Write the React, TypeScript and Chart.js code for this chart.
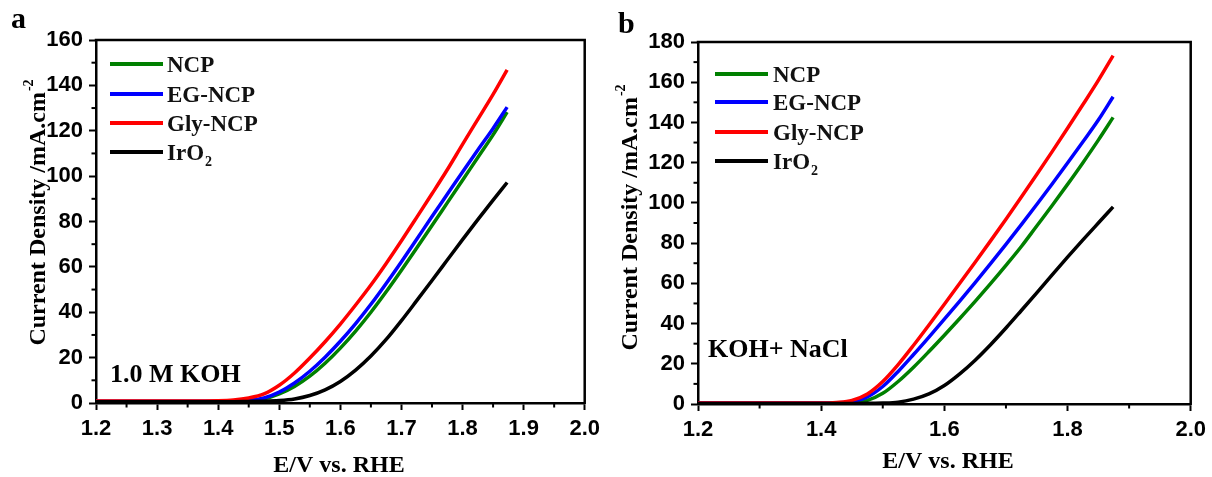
import React, { useEffect, useRef } from 'react';
import { Chart, registerables } from 'chart.js';
Chart.register(...registerables);

const SERIES_NAMES = ['NCP', 'EG-NCP', 'Gly-NCP', 'IrO2'];
const SERIES_COLORS = ['#008000', '#0000ff', '#ff0000', '#000000'];

// Panel a : 1.0 M KOH
const VOLTS_A = [1.2, 1.25, 1.3, 1.35, 1.4, 1.425, 1.45, 1.475, 1.5, 1.525, 1.55, 1.575, 1.6, 1.625, 1.65, 1.675, 1.7, 1.725, 1.75, 1.775, 1.8, 1.825, 1.85, 1.873];
const NCP_A = [0.7, 0.7, 0.7, 0.7, 0.7, 0.8, 1.0, 1.8, 4.0, 7.3, 11.8, 17.5, 24.2, 31.7, 40, 49, 58.5, 68.3, 78.2, 88.2, 98.2, 108.2, 118.2, 128.2];
const EG_A = [0.8, 0.8, 0.8, 0.8, 0.8, 0.9, 1.2, 2.2, 4.8, 8.8, 14, 20.2, 27.2, 35, 43.5, 52.7, 62.3, 72.2, 82.2, 92, 101.8, 111.5, 121, 130.4];
const GLY_A = [0.9, 0.9, 0.9, 0.9, 1.0, 1.3, 2.2, 4.0, 7.8, 13.2, 19.8, 27, 34.8, 43.2, 52, 61.5, 71.5, 81.8, 92.2, 102.8, 114, 125, 136, 146.8];
const IRO2_A = [0.6, 0.6, 0.6, 0.6, 0.6, 0.6, 0.7, 0.8, 1.1, 1.8, 3.3, 5.8, 9.5, 14.5, 20.7, 28, 36.3, 45.1, 54, 63, 72, 80.8, 89.4, 97.2];

// Panel b : KOH + NaCl
const VOLTS_B = [1.2, 1.25, 1.3, 1.35, 1.4, 1.425, 1.45, 1.475, 1.5, 1.525, 1.55, 1.575, 1.6, 1.625, 1.65, 1.675, 1.7, 1.725, 1.75, 1.775, 1.8, 1.825, 1.85, 1.874];
const NCP_B = [0.4, 0.4, 0.4, 0.4, 0.4, 0.5, 0.8, 1.8, 5.3, 11.2, 18.3, 26.1, 34.2, 42.5, 51, 59.8, 68.9, 78.3, 88.5, 98.7, 109.2, 120, 131.2, 142.5];
const EG_B = [0.5, 0.5, 0.5, 0.5, 0.5, 0.6, 1.2, 3.5, 8.7, 16.2, 24.6, 33.3, 42.2, 51.2, 60.4, 69.8, 79.4, 89.2, 99.2, 109.4, 119.8, 130.4, 141.2, 152.8];
const GLY_B = [0.5, 0.5, 0.5, 0.5, 0.5, 0.8, 1.8, 5.0, 11.2, 19.6, 29.2, 39.3, 49.6, 60, 70.5, 81.1, 91.9, 102.9, 114.1, 125.5, 137.1, 148.9, 160.9, 173.2];
const IRO2_B = [0.3, 0.3, 0.3, 0.3, 0.3, 0.3, 0.3, 0.35, 0.45, 0.9, 2.4, 5.0, 9.2, 15.0, 21.8, 29.5, 37.8, 46.5, 55.3, 64.2, 73, 81.6, 90, 98];

// Ticks
const X_MINOR_A = [1.25, 1.35, 1.45, 1.55, 1.65, 1.75, 1.85, 1.95];
const Y_MINOR_A = [10, 30, 50, 70, 90, 110, 130, 150];
const X_MINOR_B = [1.3, 1.5, 1.7, 1.9];
const Y_MINOR_B = [10, 30, 50, 70, 90, 110, 130, 150, 170];

const SERIF = "'Liberation Serif', 'Times New Roman', serif";
const SANS = "'Liberation Sans', Arial, sans-serif";

type PanelCfg = {
  volts: number[];
  series: number[][];
  yMax: number;
  xStep: number;
  xMinor: number[];
  yMinor: number[];
  padRight: number;
  padTop: number;
  yWidth: number;
  xHeight: number;
  letter: string;
  letterPos: [number, number];
  note: string;
  notePos: [number, number];
  legendX: [number, number, number];
  legendY: number[];
  yTitlePos: [number, number];
  xTitlePos: [number, number];
};

const PANEL_A: PanelCfg = {
  volts: VOLTS_A,
  series: [NCP_A, EG_A, GLY_A, IRO2_A],
  yMax: 160,
  xStep: 0.1,
  xMinor: X_MINOR_A,
  yMinor: Y_MINOR_A,
  padRight: 17,
  padTop: 40,
  yWidth: 96,
  xHeight: 74,
  letter: 'a',
  letterPos: [11, 28],
  note: '1.0 M KOH',
  notePos: [110, 382],
  legendX: [110, 163, 167],
  legendY: [64, 94, 123, 152],
  yTitlePos: [45, 213],
  xTitlePos: [339, 472],
};

const PANEL_B: PanelCfg = {
  volts: VOLTS_B,
  series: [NCP_B, EG_B, GLY_B, IRO2_B],
  yMax: 180,
  xStep: 0.2,
  xMinor: X_MINOR_B,
  yMinor: Y_MINOR_B,
  padRight: 21,
  padTop: 42,
  yWidth: 92,
  xHeight: 73,
  letter: 'b',
  letterPos: [12, 33],
  note: 'KOH+ NaCl',
  notePos: [102, 357],
  legendX: [109, 162, 167],
  legendY: [74, 102, 132, 161],
  yTitlePos: [31, 218],
  xTitlePos: [342, 468],
};

function makeDecor(cfg: PanelCfg) {
  return {
    id: 'decor' + cfg.letter,
    afterDraw(chart: any) {
      const ctx: CanvasRenderingContext2D = chart.ctx;
      const { left, right, top, bottom } = chart.chartArea;
      const xs = chart.scales.x;
      const ys = chart.scales.y;
      ctx.save();
      ctx.strokeStyle = '#000';
      ctx.fillStyle = '#000';
      // frame top & right
      ctx.lineWidth = 2.5;
      ctx.beginPath();
      ctx.moveTo(left - 1.25, top);
      ctx.lineTo(right, top);
      ctx.lineTo(right, bottom + 1.25);
      ctx.stroke();
      // minor ticks
      ctx.lineWidth = 2;
      for (const v of cfg.xMinor) {
        const px = xs.getPixelForValue(v);
        ctx.beginPath();
        ctx.moveTo(px, bottom);
        ctx.lineTo(px, bottom + 4.5);
        ctx.stroke();
      }
      for (const v of cfg.yMinor) {
        const py = ys.getPixelForValue(v);
        ctx.beginPath();
        ctx.moveTo(left, py);
        ctx.lineTo(left - 4.5, py);
        ctx.stroke();
      }
      // legend
      const [lx1, lx2, tx] = cfg.legendX;
      SERIES_NAMES.forEach((name, i) => {
        const y = cfg.legendY[i];
        ctx.strokeStyle = SERIES_COLORS[i];
        ctx.lineWidth = 4;
        ctx.beginPath();
        ctx.moveTo(lx1, y);
        ctx.lineTo(lx2, y);
        ctx.stroke();
        ctx.fillStyle = '#111';
        ctx.textBaseline = 'alphabetic';
        ctx.textAlign = 'left';
        ctx.font = `bold 23px ${SERIF}`;
        const base = y + 8;
        if (name === 'IrO2') {
          ctx.fillText('IrO', tx, base);
          const w = ctx.measureText('IrO').width;
          ctx.font = `bold 14px ${SERIF}`;
          ctx.fillText('2', tx + w + 1, base + 6);
        } else {
          ctx.fillText(name, tx, base);
        }
      });
      ctx.fillStyle = '#000';
      // panel letter
      ctx.font = `bold 30px ${SERIF}`;
      ctx.textAlign = 'left';
      ctx.textBaseline = 'alphabetic';
      ctx.fillText(cfg.letter, cfg.letterPos[0], cfg.letterPos[1]);
      // note
      ctx.font = `bold 26px ${SERIF}`;
      ctx.fillText(cfg.note, cfg.notePos[0], cfg.notePos[1]);
      // x title
      ctx.font = `bold 24px ${SERIF}`;
      ctx.textAlign = 'center';
      ctx.fillText('E/V vs. RHE', cfg.xTitlePos[0], cfg.xTitlePos[1]);
      // y title (rotated with superscript)
      ctx.translate(cfg.yTitlePos[0], cfg.yTitlePos[1]);
      ctx.rotate(-Math.PI / 2);
      ctx.textAlign = 'left';
      ctx.font = `bold 24px ${SERIF}`;
      const main = 'Current Density /mA.cm';
      const wm = ctx.measureText(main).width;
      ctx.font = `bold 14px ${SERIF}`;
      const ws = ctx.measureText('-2').width;
      const start = -(wm + ws) / 2;
      ctx.font = `bold 24px ${SERIF}`;
      ctx.fillText(main, start, 0);
      ctx.font = `bold 14px ${SERIF}`;
      ctx.fillText('-2', start + wm + 1, -12);
      ctx.restore();
    },
  };
}

function Panel({ cfg, left }: { cfg: PanelCfg; left: number }) {
  const ref = useRef<HTMLCanvasElement>(null);
  useEffect(() => {
    if (!ref.current) return;
    const tickFont = { family: SANS, size: 22, weight: 'bold' as const };
    const chart = new Chart(ref.current, {
      type: 'line',
      data: {
        datasets: cfg.series.map((vals, i) => ({
          label: SERIES_NAMES[i],
          data: cfg.volts.map((v, j) => ({ x: v, y: vals[j] })),
          borderColor: SERIES_COLORS[i],
          backgroundColor: SERIES_COLORS[i],
          borderWidth: 3.5,
          pointRadius: 0,
          cubicInterpolationMode: 'monotone' as const,
          fill: false,
        })).reverse(),
      },
      options: {
        animation: false,
        responsive: true,
        maintainAspectRatio: false,
        layout: { padding: { left: 0, right: cfg.padRight, top: cfg.padTop, bottom: 0 } },
        plugins: { legend: { display: false }, tooltip: { enabled: false } },
        scales: {
          x: {
            type: 'linear',
            min: 1.2,
            max: 2.0,
            ticks: {
              stepSize: cfg.xStep,
              autoSkip: false,
              maxRotation: 0,
              padding: 6,
              color: '#000',
              font: tickFont,
              callback: (v: any) => Number(v).toFixed(1),
            },
            grid: { display: true, drawOnChartArea: false, drawTicks: true, tickLength: 7, tickWidth: 2, tickColor: '#000' },
            border: { display: true, width: 2.5, color: '#000' },
            afterFit: (s: any) => { s.height = cfg.xHeight; },
          },
          y: {
            type: 'linear',
            min: 0,
            max: cfg.yMax,
            ticks: {
              stepSize: 20,
              autoSkip: false,
              padding: 6,
              color: '#000',
              font: tickFont,
            },
            grid: { display: true, drawOnChartArea: false, drawTicks: true, tickLength: 7, tickWidth: 2, tickColor: '#000' },
            border: { display: true, width: 2.5, color: '#000' },
            afterFit: (s: any) => { s.width = cfg.yWidth; },
          },
        },
      },
      plugins: [makeDecor(cfg)],
    });
    return () => chart.destroy();
  }, []);
  return (
    <div style={{ position: 'absolute', left, top: 0, width: 606, height: 477 }}>
      <canvas ref={ref} />
    </div>
  );
}

export default function App() {
  return (
    <div style={{ position: 'fixed', left: 0, top: 0, width: 1212, height: 477, background: '#fff' }}>
      <Panel cfg={PANEL_A} left={0} />
      <Panel cfg={PANEL_B} left={606} />
    </div>
  );
}
